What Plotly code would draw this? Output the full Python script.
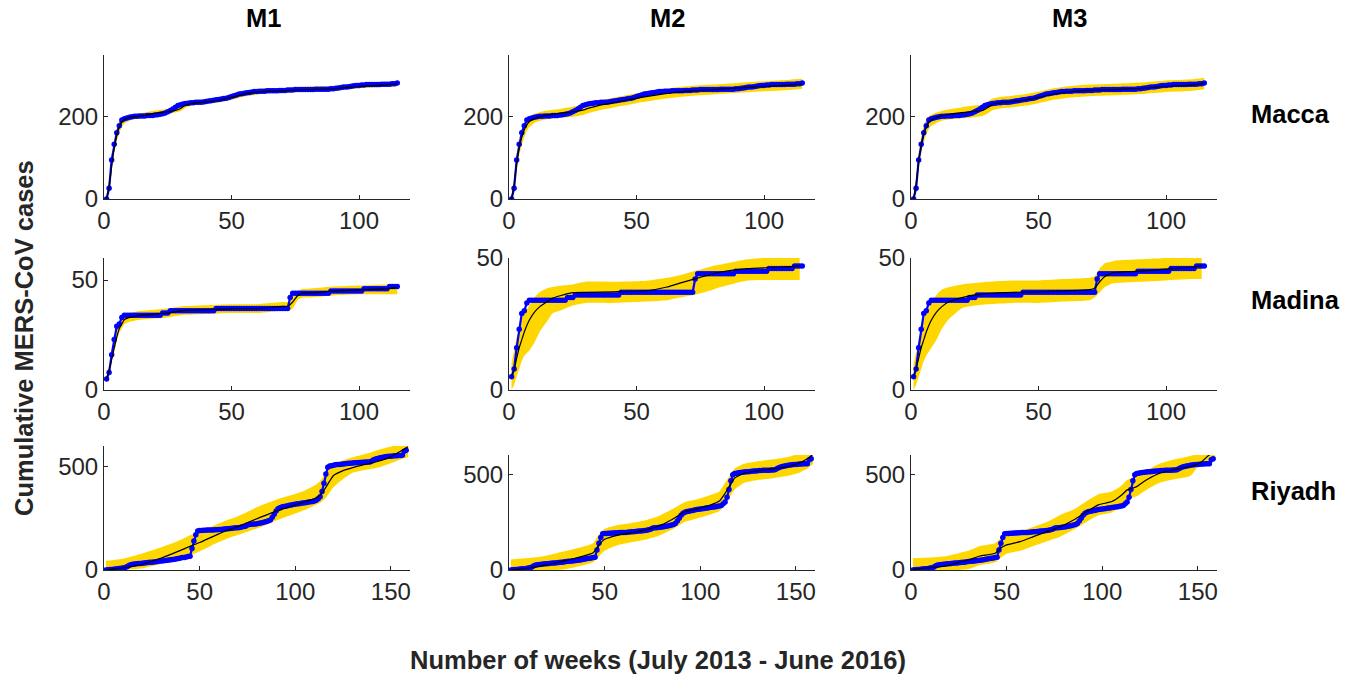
import plotly.graph_objects as go

# ---------------- observed weekly cumulative cases ----------------
macca_obs = [0, 26, 95, 133, 161, 178, 192, 195, 197, 199,
             200, 201, 201, 202, 202, 202, 203, 203, 203, 204,
             205, 206, 207, 209, 212, 215, 219, 223, 227, 229,
             231, 232, 233, 234, 234, 235, 235, 235, 236, 237,
             238, 239, 240, 241, 242, 243, 244, 245, 247, 249,
             251, 253, 255, 256, 257, 258, 259, 260, 261, 261,
             262, 262, 262, 263, 263, 263, 263, 263, 264, 264,
             264, 265, 265, 265, 266, 266, 266, 266, 266, 266,
             266, 266, 267, 267, 267, 267, 267, 267, 268, 268,
             269, 270, 271, 272, 272, 273, 274, 275, 276, 276,
             277, 277, 278, 278, 278, 278, 278, 278, 279, 279,
             279, 279, 280, 280, 282]

madina_obs = [5, 8, 16, 23, 29, 30, 33, 34,
              34, 34, 34, 34, 34, 34, 34, 34, 34, 34, 34, 34, 34, 34,
              35, 35, 35,
              36, 36, 36, 36, 36, 36, 36, 36, 36, 36, 36, 36, 36, 36, 36, 36, 36, 36,
              37, 37, 37, 37, 37, 37, 37, 37, 37, 37, 37, 37, 37, 37, 37, 37, 37, 37,
              37, 37, 37, 37, 37, 37, 37, 37, 37, 37, 37,
              42, 44, 44, 44, 44, 44, 44, 44, 44, 44, 44, 44, 44, 44, 44, 44,
              45, 45, 45, 45, 45, 45, 45, 45, 45, 45, 45, 45, 45,
              46, 46, 46, 46, 46, 46, 46, 46, 46, 46,
              47, 47, 47, 47]

riyadh_obs = [0, 1, 2, 3, 4, 5, 6, 7, 8, 10,
              12, 16, 22, 26, 28, 29, 30, 31, 32, 33,
              34, 35, 36, 37, 38, 39, 40, 41, 43, 44,
              45, 46, 47, 48, 49, 51, 52, 54, 56, 58,
              60, 61, 63, 65, 67, 104, 140, 170, 189, 191,
              191, 192, 192, 193, 193, 194, 194, 195, 195, 196, 196, 197, 198,
              199, 200, 201, 202, 203, 204, 205,
              206, 208, 210, 212,
              218,
              220, 221, 222, 223, 224,
              226, 228, 230, 232, 235, 238,
              242, 255, 270, 285, 296, 301,
              305, 307, 309, 311, 313, 315, 317,
              318, 320, 321, 323, 324, 326, 327, 329, 330, 332, 334,
              337, 345, 355, 380, 420, 465, 497,
              503, 505, 507,
              509, 510, 511, 512, 513, 514, 515, 516, 517, 518,
              519, 519, 520, 520, 521, 521, 522, 522, 523,
              528, 533, 537, 540, 542,
              544, 546, 548, 549, 550, 551, 552,
              553, 553, 554, 554, 555,
              575, 580]

# ---------------- model fits and 95% bands ----------------
macca_wk = [1, 2, 3, 4, 5, 6, 7, 8, 10, 12, 15, 20, 25, 28, 30, 32, 35, 40, 45, 50,
            55, 60, 65, 70, 80, 90, 100, 110, 115]
macca_m1_fit = [0, 30, 80, 125, 155, 175, 187, 193, 198, 200, 202, 208, 212, 215, 220, 228, 233, 236, 240, 247,
                255, 260, 262, 263, 266, 268, 274, 277, 280]
macca_m1_lo = [0, 15, 65, 110, 140, 160, 175, 183, 190, 194, 197, 203, 207, 210, 214, 222, 228, 231, 235, 241,
               249, 254, 257, 258, 261, 263, 269, 272, 274]
macca_m1_hi = [5, 45, 95, 140, 170, 190, 198, 202, 205, 207, 209, 215, 219, 222, 227, 235, 240, 243, 247, 254,
               262, 267, 269, 270, 273, 275, 281, 284, 287]
macca_m2_fit = [0, 35, 85, 125, 150, 168, 180, 188, 196, 200, 204, 208, 212, 215, 218, 222, 227, 233, 239, 245,
                250, 255, 259, 262, 266, 270, 274, 277, 280]
macca_m2_lo = [0, 20, 65, 105, 130, 150, 165, 175, 185, 190, 194, 197, 200, 203, 206, 210, 215, 221, 227, 233,
               238, 243, 247, 250, 254, 258, 262, 265, 268]
macca_m2_hi = [8, 50, 105, 145, 170, 185, 195, 200, 207, 211, 215, 219, 224, 227, 230, 234, 239, 245, 251, 257,
               262, 267, 271, 274, 278, 282, 286, 290, 292]
macca_m3_fit = [0, 35, 90, 130, 158, 175, 186, 192, 198, 202, 206, 210, 213, 215, 222, 230, 234, 237, 241, 247,
                254, 259, 262, 264, 266, 269, 274, 277, 281]
macca_m3_lo = [0, 18, 70, 110, 138, 157, 170, 178, 185, 190, 193, 196, 199, 202, 208, 216, 220, 223, 227, 233,
               240, 245, 248, 250, 252, 255, 260, 263, 267]
macca_m3_hi = [8, 52, 110, 150, 178, 193, 201, 205, 210, 214, 218, 223, 227, 229, 236, 244, 248, 251, 255, 261,
               268, 273, 276, 278, 280, 283, 288, 291, 295]

madina_m1_wk = [1, 2, 3, 4, 5, 6, 7, 8, 10, 12, 15, 20, 25, 30, 40, 50, 60, 65, 70, 72, 74, 76, 78, 80,
                90, 100, 110, 115]
madina_m1_fit = [5, 9, 14, 19, 24, 28, 30, 32, 33, 33.5, 34, 34.5, 35, 36, 36.5, 37, 37, 37.5, 38, 38, 40, 43, 44, 44,
                 45, 45.5, 46, 46.5]
madina_m1_lo = [3, 7, 12, 17, 22, 26, 28, 30, 31, 31.5, 32, 32.5, 33, 34, 34.5, 35, 35, 35.5, 36, 36, 37, 41, 42, 42,
                43, 43.5, 43.5, 43.5]
madina_m1_hi = [6, 11, 16, 22, 27, 31, 33, 34, 35, 35.5, 36, 36.5, 37, 38, 38.5, 39, 39, 39.5, 40, 40, 43, 45, 46, 46,
                47, 47.5, 48, 48]
madina_m2_wk = [1, 2, 3, 4, 5, 6, 8, 10, 12, 15, 17, 20, 25, 30, 41, 54, 62, 67, 72.5, 80, 83, 93.5,
                100, 107, 114]
madina_m2_fit = [5, 7.6, 12, 16, 19, 22, 26.5, 29.5, 31.5, 33.5, 34.7, 35.7, 36.9, 37, 37.2, 37.6, 39, 40.5, 42, 44,
                 44.7, 46, 46.3, 46.5, 47]
madina_m2_lo = [0, 2, 5, 8, 11, 13, 15, 18, 22, 26, 29, 30, 32, 33, 33, 33.5, 34, 35, 36, 38, 39, 41.5,
                41.7, 41.7, 41.7]
madina_m2_hi = [10, 15, 20, 23, 27, 29, 32, 35, 37, 38.5, 39, 39.5, 40, 41, 41, 41.4, 42.5, 43.5, 45, 47, 47.5, 49.5,
                50, 50, 50]
madina_m3_wk = [1, 2, 3, 4, 5, 6, 8, 10, 12, 15, 20, 25, 30, 40, 50, 60, 70, 72, 74, 76, 78, 80,
                90, 100, 110, 114]
madina_m3_fit = [5, 8, 12, 16, 19, 22, 26.5, 29.5, 31.5, 33.5, 35, 36, 36.5, 37, 37.2, 37.5, 38, 38.5, 41, 43, 44, 44.5,
                 45, 45.8, 46.5, 47]
madina_m3_lo = [0, 2, 5, 8, 11, 13, 16, 19, 23, 27, 31, 32, 32.5, 33, 33, 33.5, 34, 35, 37, 39, 40, 40.5,
                41, 41.5, 42, 42]
madina_m3_hi = [10, 14, 19, 23, 27, 29, 33, 36, 38, 39, 40, 40.5, 41, 41.5, 41.5, 42, 42.5, 43, 46, 48, 48.5, 49,
                49.5, 50, 50, 50]

riyadh_m1_wk = [1, 10, 20, 30, 40, 45, 50, 60, 64, 70, 82, 90, 99, 105, 110, 113, 116, 118, 120, 125,
                130, 134, 140, 145, 151, 155, 159]
riyadh_m1_fit = [0, 10, 28, 58, 95, 115, 133, 175, 190, 210, 256, 285, 312, 330, 345, 362, 400, 430, 457, 481,
                 495, 505, 518, 530, 553, 575, 596]
riyadh_m1_lo = [0, 0, 8, 30, 60, 72, 90, 135, 150, 170, 208, 240, 270, 290, 312, 325, 350, 375, 400, 440,
                470, 480, 490, 500, 520, 535, 545]
riyadh_m1_hi = [45, 55, 80, 110, 145, 168, 185, 225, 240, 260, 312, 340, 365, 385, 409, 430, 470, 500, 513, 530,
                545, 555, 570, 585, 600, 615, 630]
riyadh_m23_wk = [1, 10, 18, 25, 30, 36, 44, 47, 50, 57, 64, 71, 78, 85, 92, 98, 105, 110, 113, 116,
                 118, 123, 130, 137, 146, 151, 156, 159]
riyadh_m2_fit = [0, 10, 24, 38, 50, 65, 90, 130, 160, 182, 195, 208, 228, 262, 305, 318, 338, 360, 400, 450,
                 480, 505, 518, 526, 540, 555, 580, 605]
riyadh_m2_lo = [0, 0, 0, 0, 5, 18, 40, 70, 100, 130, 145, 158, 178, 210, 252, 268, 288, 308, 340, 390,
                420, 455, 470, 478, 492, 505, 530, 555]
riyadh_m2_hi = [55, 62, 72, 88, 100, 115, 140, 185, 215, 235, 245, 258, 280, 315, 355, 368, 390, 410, 455, 500,
                530, 555, 568, 576, 590, 605, 630, 655]
riyadh_m3_fit = [3, 12, 21, 40, 52, 73, 87, 115, 131, 148, 174, 200, 226, 261, 305, 340, 357, 390, 418, 428,
                 435, 470, 505, 523, 540, 557, 601, 620]
riyadh_m3_lo = [0, 0, 0, 0, 5, 25, 40, 65, 85, 100, 125, 150, 174, 210, 252, 285, 300, 335, 365, 378,
                385, 418, 455, 472, 490, 549, 555, 570]
riyadh_m3_hi = [61, 65, 72, 88, 100, 125, 140, 165, 180, 200, 225, 250, 287, 315, 360, 395, 409, 440, 470, 480,
                488, 520, 555, 575, 595, 610, 650, 670]

model_titles = ["M1", "M2", "M3"]
region_names = ["Macca", "Madina", "Riyadh"]
x_label = "Number of weeks (July 2013 - June 2016)"
y_label = "Cumulative MERS-CoV cases"

# ---------------- assemble panels ----------------
obs = [macca_obs, madina_obs, riyadh_obs]
panels = [
    [(macca_wk, macca_m1_fit, macca_m1_lo, macca_m1_hi),
     (macca_wk, macca_m2_fit, macca_m2_lo, macca_m2_hi),
     (macca_wk, macca_m3_fit, macca_m3_lo, macca_m3_hi)],
    [(madina_m1_wk, madina_m1_fit, madina_m1_lo, madina_m1_hi),
     (madina_m2_wk, madina_m2_fit, madina_m2_lo, madina_m2_hi),
     (madina_m3_wk, madina_m3_fit, madina_m3_lo, madina_m3_hi)],
    [(riyadh_m1_wk, riyadh_m1_fit, riyadh_m1_lo, riyadh_m1_hi),
     (riyadh_m23_wk, riyadh_m2_fit, riyadh_m2_lo, riyadh_m2_hi),
     (riyadh_m23_wk, riyadh_m3_fit, riyadh_m3_lo, riyadh_m3_hi)],
]
x_ranges = [[0, 120], [0, 120], [0, 160]]
x_ticks = [[0, 50, 100], [0, 50, 100], [0, 50, 100, 150]]
y_ranges = [[[0, 350]] * 3, [[0, 60], [0, 50], [0, 50]], [[0, 600]] * 3]
y_ticks = [[0, 200], [0, 50], [0, 500]]

W, H = 1354, 674
col_px = [(104, 410), (509, 815), (911, 1217)]
row_px = [[(55, 199)] * 3, [(258, 390)] * 3, [(446, 570), (455, 570), (455, 570)]]

YELLOW = "rgb(255,215,0)"
BLUE = "rgb(0,0,255)"
AX = "#262626"
FONT = "Liberation Sans, Arial, sans-serif"

fig = go.Figure()
layout = {}
k = 0
for r in range(3):
    weeks_obs = list(range(1, len(obs[r]) + 1))
    for c in range(3):
        k += 1
        xa = "x" if k == 1 else f"x{k}"
        ya = "y" if k == 1 else f"y{k}"
        wk, fit, lo, hi = panels[r][c]
        fig.add_trace(go.Scatter(x=wk, y=lo, xaxis=xa, yaxis=ya, mode="lines",
                                 line=dict(width=0, color=YELLOW, shape="spline", smoothing=0.5),
                                 showlegend=False, hoverinfo="skip"))
        fig.add_trace(go.Scatter(x=wk, y=hi, xaxis=xa, yaxis=ya, mode="lines", fill="tonexty",
                                 fillcolor=YELLOW,
                                 line=dict(width=0, color=YELLOW, shape="spline", smoothing=0.5),
                                 showlegend=False, hoverinfo="skip"))
        fig.add_trace(go.Scatter(x=weeks_obs, y=obs[r], xaxis=xa, yaxis=ya, mode="lines+markers",
                                 line=dict(width=2.2, color=BLUE),
                                 marker=dict(size=5.5, color=BLUE),
                                 showlegend=False))
        fig.add_trace(go.Scatter(x=wk, y=fit, xaxis=xa, yaxis=ya, mode="lines",
                                 line=dict(width=1.2, color="black", shape="spline", smoothing=0.5),
                                 showlegend=False))
        x0, x1 = col_px[c]
        y0, y1 = row_px[r][c]
        axname_x = "xaxis" if k == 1 else f"xaxis{k}"
        axname_y = "yaxis" if k == 1 else f"yaxis{k}"
        common = dict(showgrid=False, zeroline=False, showline=True, linecolor=AX, linewidth=1,
                      ticks="inside", ticklen=4, tickcolor=AX, tickwidth=1,
                      tickfont=dict(family=FONT, size=24, color=AX), fixedrange=True,
                      automargin=False)
        layout[axname_x] = dict(domain=[x0 / W, x1 / W], anchor=ya, range=x_ranges[r],
                                tickvals=x_ticks[r], **common)
        layout[axname_y] = dict(domain=[1 - y1 / H, 1 - y0 / H], anchor=xa, range=y_ranges[r][c],
                                tickvals=y_ticks[r], **common)

annotations = []
BOLD = 25.5
title_x = [263, 667, 1069]
for c in range(3):
    annotations.append(dict(text=f"<b>{model_titles[c]}</b>", x=title_x[c] / W, y=1 - 18 / H,
                            xref="paper", yref="paper", showarrow=False, xanchor="center", yanchor="middle",
                            font=dict(family=FONT, size=BOLD, color="black")))
row_label_y = [114, 300, 491]
for r in range(3):
    annotations.append(dict(text=f"<b>{region_names[r]}</b>", x=1249 / W, y=1 - row_label_y[r] / H,
                            xref="paper", yref="paper", showarrow=False, xanchor="left", yanchor="middle",
                            font=dict(family=FONT, size=BOLD, color="black")))
annotations.append(dict(text=f"<b>{x_label}</b>", x=658 / W, y=1 - 660 / H, xref="paper", yref="paper",
                        showarrow=False, xanchor="center", yanchor="middle",
                        font=dict(family=FONT, size=BOLD, color=AX)))
annotations.append(dict(text=f"<b>{y_label}</b>", x=24 / W, y=1 - 338 / H, xref="paper", yref="paper",
                        showarrow=False, xanchor="center", yanchor="middle", textangle=-90,
                        font=dict(family=FONT, size=BOLD, color=AX)))

fig.update_layout(width=W, height=H, margin=dict(l=0, r=0, t=0, b=0, autoexpand=False),
                  plot_bgcolor="white", paper_bgcolor="white",
                  annotations=annotations, **layout)

fig.write_html("out.html", include_plotlyjs=True, config={"displayModeBar": False})
